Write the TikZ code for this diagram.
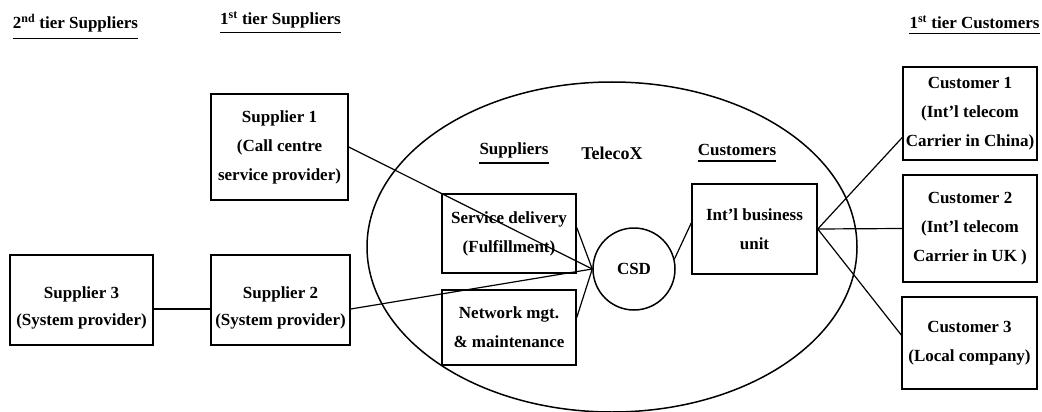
\documentclass[tikz,border=0pt]{standalone}
\usepackage{fontspec}
\setmainfont{Liberation Serif}
\usepackage{tikz}
\usetikzlibrary{calc,positioning,shapes}
\tikzstyle{box}     = [rectangle, draw=black, line width=1.5pt, inner sep=0pt, align=center, font=\fontsize{17}{29}\selectfont\bfseries]
\tikzstyle{boxtext} = [inner sep=0pt, align=center, font=\fontsize{17}{27}\selectfont\bfseries]
\tikzstyle{hub}     = [circle, draw=black, line width=1.5pt, minimum size=82pt, inner sep=0pt, font=\fontsize{17}{20}\selectfont\bfseries]
\tikzstyle{heading} = [inner sep=0pt, font=\fontsize{17}{20}\selectfont\bfseries]
\tikzstyle{uline}   = [line width=1.4pt]
\tikzstyle{link}    = [line width=1.2pt]

\begin{document}
\begin{tikzpicture}[x=1pt,y=-1pt]
        \useasboundingbox (0,0) rectangle (1042,412);

        \node[heading] (h2s) at (75.5,23) {2\textsuperscript{nd} tier Suppliers};
        \node[heading] (h1s) at (280.5,20) {1\textsuperscript{st} tier Suppliers};
        \node[heading] (h1c) at (974.5,22) {1\textsuperscript{st} tier Customers};
        \draw[uline] ([yshift=-6pt]h2s.south west) -- ([yshift=-6pt]h2s.south east);
        \draw[uline] ([yshift=-4pt]h1s.south west) -- ([yshift=-4pt]h1s.south east);
        \draw[uline] ([yshift=-5pt]h1c.south west) -- ([yshift=-5pt]h1c.south east);

        \draw[line width=1.5pt] (612,247) ellipse [x radius=245pt, y radius=165pt];

        \node[heading] (isup) at (514,150) {Suppliers};
        \node[heading, font=\fontsize{18}{20}\selectfont\bfseries] (tx) at (612,153) {TelecoX};
        \node[heading] (icus) at (737,150) {Customers};
        \draw[uline] ([yshift=-5pt]isup.south west) -- ([yshift=-5pt]isup.south east);
        \draw[uline] ([yshift=-5pt]icus.south west) -- ([yshift=-5pt]icus.south east);

        \node[box, minimum width=137pt, minimum height=106pt] (s1) at (279.5,147) {Supplier 1\\(Call centre\\service provider)};
        \node[box, minimum width=143pt, minimum height=90pt,
              label={[boxtext, yshift=-8pt]center:Supplier 3\\(System provider)}] (s3) at (81.5,300) {};
        \node[box, minimum width=139pt, minimum height=90pt,
              label={[boxtext, yshift=-8pt]center:Supplier 2\\(System provider)}] (s2) at (280.5,300) {};

        \node[box, minimum width=134pt, minimum height=79pt] (sd) at (509,233.5) {Service delivery\\(Fulfillment)};
        \node[box, minimum width=134pt, minimum height=75pt] (nm) at (509,327.5) {Network mgt.\\\&\ maintenance};
        \node[hub] (csd) at (634,269) {CSD};
        \node[box, minimum width=125pt, minimum height=90pt] (bu) at (754.5,229) {Int’l business\\unit};

        \node[box, minimum width=134pt, minimum height=93pt] (c1) at (970,113.5) {Customer 1\\(Int’l telecom\\Carrier in China)};
        \node[box, minimum width=134pt, minimum height=107pt] (c2) at (970,228.5) {Customer 2\\(Int’l telecom\\Carrier in UK )};
        \node[box, minimum width=135pt, minimum height=92pt] (c3) at (969.5,343) {Customer 3\\(Local company)};

        \draw[link] ([yshift=-9pt]s3.east) -- ([yshift=-9pt]s2.west);
        \draw[link] (s1.east) -- (csd.west);
        \draw[link] ([yshift=-9pt]s2.east) -- (csd.west);
        \draw[link] ([yshift=6pt]sd.east) -- (csd.west);
        \draw[link] ([yshift=10pt]nm.east) -- (csd.west);
        \draw[link] (csd.14) -- ([yshift=6pt]bu.west);
        \draw[link] (bu.east) -- ([yshift=-24pt]c1.west);
        \draw[link] (bu.east) -- (c2.west);
        \draw[link] (bu.east) -- ([yshift=8pt]c3.west);
    \end{tikzpicture}
\end{document}
